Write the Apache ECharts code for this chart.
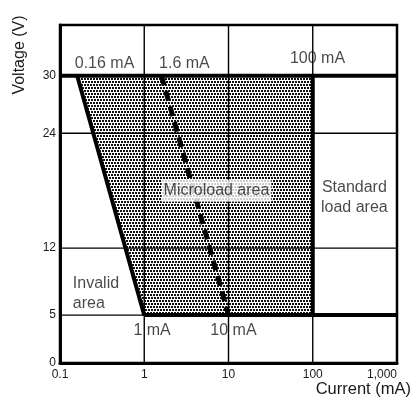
<!DOCTYPE html>
<html>
<head>
<meta charset="utf-8">
<script src="https://cdn.jsdelivr.net/npm/echarts@6/dist/echarts.min.js"></script>
<style>html,body{margin:0;padding:0;background:#fff}#c{width:414px;height:398px}</style>
</head>
<body>
<div id="c"></div>
<script>
// ---- data ----
const xTicks = [0.1, 1, 10, 100, 1000];
const yTicks = [0, 5, 12, 24, 30];
const microloadRegion = [[0.16, 30], [100, 30], [100, 5], [1, 5]];
const invalidBoundary = [[0.16, 30], [1, 5]];
const microloadBoundary = [[1.6, 30], [10, 5]];
const thinSegments = [
  [[0.1, 12], [1000, 12]],
  [[0.1, 24], [1000, 24]],
  [[0.1, 5], [1, 5]],
  [[1, 0], [1, 35.3]],
  [[10, 0], [10, 35.3]],
  [[100, 0], [100, 5]],
  [[100, 30], [100, 35.3]]
];
const thickSegments = [
  [[0.1, 30], [1000, 30]],
  [[1, 5], [1000, 5]],
  [[100, 5], [100, 30]]
];
const annotations = [
  { text: '0.16 mA', x: 0.338, y: 31.3, align: 'center' },
  { text: '1.6 mA', x: 3.0, y: 31.3, align: 'center' },
  { text: '100 mA', x: 114, y: 31.8, align: 'center' },
  { text: 'Microload area', x: 7.2, y: 18.0, align: 'center', bg: true },
  { text: 'Standard\nload area', x: 312, y: 17.3, align: 'center' },
  { text: 'Invalid\narea', x: 0.142, y: 7.3, align: 'left' },
  { text: '1 mA', x: 1.24, y: 3.4, align: 'center' },
  { text: '10 mA', x: 11.45, y: 3.4, align: 'center' }
];

// ---- pattern ----
const pc = document.createElement('canvas');
pc.width = 6; pc.height = 6;
const pctx = pc.getContext('2d');
pctx.fillStyle = '#ffffff'; pctx.fillRect(0, 0, 6, 6);
pctx.fillStyle = '#111111';
[[0, 0], [3, 0], [1, 3], [4, 3]].forEach(p => pctx.fillRect(p[0], p[1], 2, 2));
const pattern = { image: pc, repeat: 'repeat' };

const FONT = "'Liberation Sans', Arial, Helvetica, sans-serif";

function seg(data, width, dash) {
  return {
    type: 'line', data: data, symbol: 'none', silent: true, animation: false,
    lineStyle: { color: '#000', width: width, type: dash || 'solid', cap: 'butt' },
    z: 3
  };
}

const series = [];
series.push({
  type: 'custom', silent: true, animation: false, z: 1,
  data: microloadRegion,
  renderItem: function (params, api) {
    if (params.dataIndex !== 0) return null;
    const pts = microloadRegion.map(p => api.coord(p));
    return { type: 'polygon', shape: { points: pts }, style: { fill: pattern } };
  }
});
thinSegments.forEach(s => series.push(seg(s, 1.4)));
thickSegments.forEach(s => series.push(seg(s, 4)));
series.push(seg(invalidBoundary, 4));
series.push(seg(microloadBoundary, 5, [10, 6]));
series.push({
  type: 'scatter', symbolSize: 0, silent: true, animation: false, z: 10,
  data: annotations.map(a => ({
    value: [a.x, a.y],
    label: {
      show: true, position: 'inside', formatter: a.text, align: a.align,
      verticalAlign: 'middle', color: '#1a1a1a', fontSize: 16, fontFamily: FONT,
      lineHeight: 20,
      backgroundColor: a.bg ? '#fff' : 'transparent', padding: a.bg ? [1, 2] : 0
    }
  }))
});

const chart = echarts.init(document.getElementById('c'), null, { renderer: 'canvas' });
chart.setOption({
  animation: false,
  backgroundColor: '#fff',
  grid: { left: 60, right: 14, top: 25, bottom: 33, show: true, borderColor: '#000', borderWidth: 2.5 },
  xAxis: {
    type: 'log', logBase: 10, min: 0.1, max: 1000,
    axisLine: { show: true, lineStyle: { color: '#000', width: 3 } },
    axisTick: { show: false },
    splitLine: { show: false },
    axisLabel: {
      color: '#1a1a1a', fontSize: 12, fontFamily: FONT, margin: 6,
      alignMaxLabel: 'right',
      formatter: function (v) {
        const r = xTicks.find(t => Math.abs(t - v) / t < 1e-6);
        if (r === undefined) return '';
        return r >= 1000 ? r.toLocaleString('en-US') : String(r);
      }
    },
    name: 'Current (mA)', nameLocation: 'end', nameGap: 14,
    nameTextStyle: { color: '#1a1a1a', fontSize: 16.5, fontFamily: FONT, align: 'right', verticalAlign: 'top', padding: [18, 0, 0, 0] }
  },
  yAxis: {
    type: 'value', min: 0, max: 35.3, interval: 1,
    axisLine: { show: true, lineStyle: { color: '#000', width: 3 } },
    axisTick: { show: false },
    splitLine: { show: false },
    axisLabel: {
      color: '#1a1a1a', fontSize: 12, fontFamily: FONT, margin: 4,
      showMaxLabel: false,
      formatter: function (v) { return yTicks.indexOf(v) >= 0 ? String(v) : ''; }
    }
  },
  graphic: [{
    type: 'text', x: 20, y: 55, rotation: Math.PI / 2,
    style: { text: 'Voltage (V)', fill: '#1a1a1a', font: '16px ' + FONT, align: 'center', verticalAlign: 'middle' }
  }],
  series: series
});
</script>
</body>
</html>
